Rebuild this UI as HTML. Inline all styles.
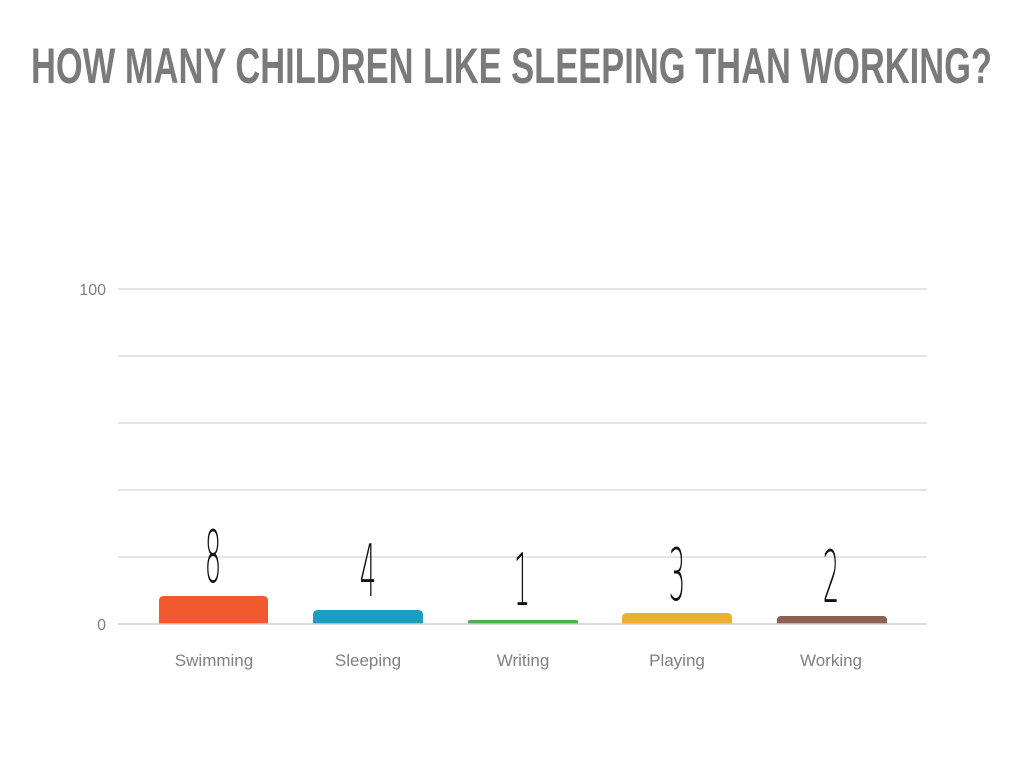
<!DOCTYPE html>
<html><head><meta charset="utf-8"><style>
html,body{margin:0;padding:0;background:#fff;width:1024px;height:768px;overflow:hidden}
</style></head><body>
<svg width="1024" height="768" viewBox="0 0 1024 768" xmlns="http://www.w3.org/2000/svg">
<text x="31" y="83" font-family="Liberation Sans, sans-serif" font-weight="bold" font-size="50" fill="#7a7a7a" textLength="961" lengthAdjust="spacingAndGlyphs">HOW MANY CHILDREN LIKE SLEEPING THAN WORKING?</text>
<g stroke="#dcdcdc" stroke-width="1.5">
<line x1="118" y1="289" x2="927" y2="289"/>
<line x1="118" y1="356" x2="927" y2="356"/>
<line x1="118" y1="423" x2="927" y2="423"/>
<line x1="118" y1="490" x2="927" y2="490"/>
<line x1="118" y1="557" x2="927" y2="557"/>
</g>
<g font-family="Liberation Sans, sans-serif" font-size="16" fill="#808080" text-anchor="end">
<text x="106" y="295">100</text>
<text x="106" y="630">0</text>
</g>
<path d="M159,624 V601 Q159,596 164,596 H263 Q268,596 268,601 V624 Z" fill="#f05a2e"/>
<path d="M313,624 V615 Q313,610 318,610 H418 Q423,610 423,615 V624 Z" fill="#1a9ebd"/>
<path d="M468,624 V622 Q468,620 470,620 H576 Q578,620 578,622 V624 Z" fill="#4caf50"/>
<path d="M622,624 V618 Q622,613 627,613 H727 Q732,613 732,618 V624 Z" fill="#ecb02d"/>
<path d="M777,624 V620 Q777,616 781,616 H883 Q887,616 887,620 V624 Z" fill="#8d6152"/>
<line x1="118" y1="624" x2="927" y2="624" stroke="#cfcfcf" stroke-width="1.5"/>
<g font-family="DejaVu Sans, sans-serif" font-weight="200" font-size="72" fill="#111" text-anchor="middle">
<text x="0" y="582" transform="translate(213,0) scale(0.36,1)">8</text>
<text x="0" y="596" transform="translate(368,0) scale(0.36,1)">4</text>
<text x="0" y="605" transform="translate(522,0) scale(0.36,1)">1</text>
<text x="0" y="600" transform="translate(677,0) scale(0.36,1)">3</text>
<text x="0" y="602" transform="translate(831,0) scale(0.36,1)">2</text>
</g>
<g font-family="Liberation Sans, sans-serif" font-size="17" fill="#808080" text-anchor="middle">
<text x="214" y="666">Swimming</text>
<text x="368" y="666">Sleeping</text>
<text x="523" y="666">Writing</text>
<text x="677" y="666">Playing</text>
<text x="831" y="666">Working</text>
</g>
</svg>
</body></html>
